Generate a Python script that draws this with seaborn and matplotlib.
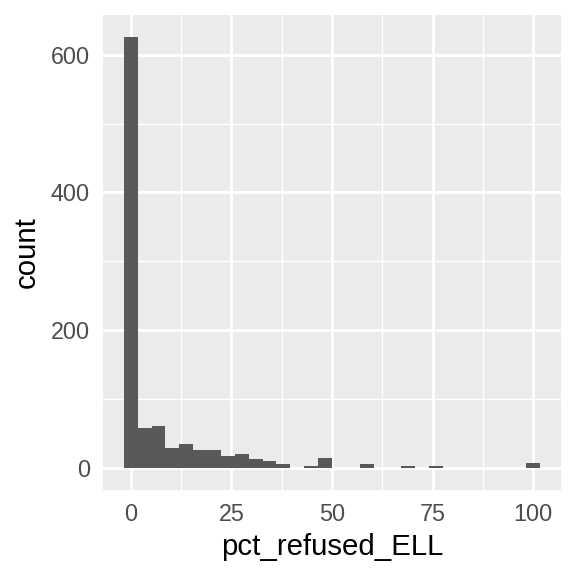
import numpy as np
import pandas as pd
import matplotlib
matplotlib.use("Agg")
import matplotlib.pyplot as plt
import seaborn as sns

# 30 bins over 0..100 (ggplot default bins=30)
n_bins = 30
counts = [626, 58, 62, 30, 36, 26, 27, 18, 21, 13,
          11, 7, 1, 3, 15, 0, 1, 7, 1, 1,
          3, 1, 4, 0, 0, 0, 0, 0, 0, 8]
x_ticks = [0, 25, 50, 75, 100]
y_ticks = [0, 200, 400, 600]

binwidth = 100 / (n_bins - 1)
centers = np.arange(n_bins) * binwidth
lo, hi = centers[0] - binwidth / 2, centers[-1] + binwidth / 2
df = pd.DataFrame({"pct_refused_ELL": centers, "w": counts})

sns.set_theme(style="darkgrid")
plt.rcParams['font.family'] = ['Liberation Sans', 'DejaVu Sans']

fig = plt.figure(figsize=(4, 4), dpi=144)
ax = fig.add_axes([103/576, 1 - 490/576, (561-103)/576, (490-15)/576])
ax.set_facecolor("#EBEBEB")

sns.histplot(data=df, x="pct_refused_ELL", weights="w",
             binwidth=binwidth, binrange=(lo, hi),
             color="#595959", alpha=1, edgecolor="none", linewidth=0, ax=ax)

pad = (hi - lo) * 0.05
ax.set_xlim(lo - pad, hi + pad)
ymax = max(counts)
ax.set_ylim(-ymax * 0.05, ymax * 1.05)

ax.set_xticks(x_ticks)
ax.set_yticks(y_ticks)
ax.set_xticks([12.5, 37.5, 62.5, 87.5], minor=True)
ax.set_yticks([100, 300, 500], minor=True)
ax.grid(which="major", color="white", linewidth=1.42)
ax.grid(which="minor", color="white", linewidth=0.71)
ax.set_axisbelow(True)
for s in ax.spines.values():
    s.set_visible(False)

ax.tick_params(which="major", length=3.67, width=1.42, color="#333333",
               labelsize=11.7, labelcolor="#4D4D4D", pad=2.9)
ax.tick_params(which="minor", length=0)
ax.set_xlabel("pct_refused_ELL", fontsize=14.7, color="black", labelpad=3.5)
ax.set_ylabel("count", fontsize=14.7, color="black", labelpad=5)

fig.savefig("out.png", dpi=144, facecolor="white")
